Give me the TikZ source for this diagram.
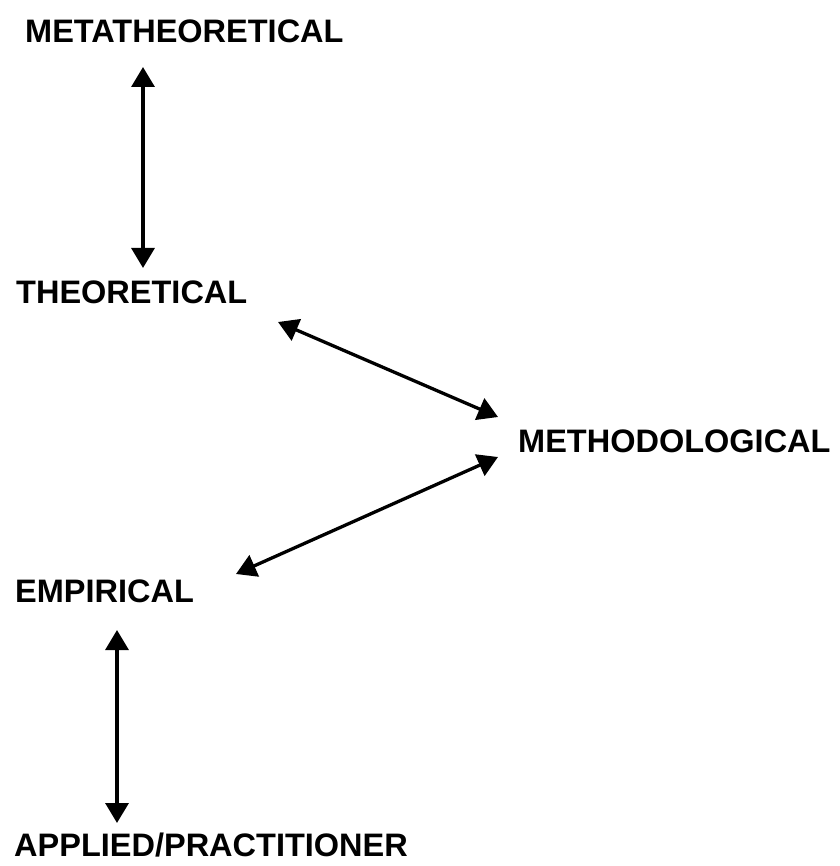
\documentclass[tikz,border=0pt]{standalone}
\usepackage{fontspec}
\setmainfont{Liberation Sans}
\usetikzlibrary{arrows.meta}
\begin{document}
\begin{tikzpicture}[x=1pt,y=-1pt,
  level/.style={anchor=base west,inner sep=0pt,font=\fontsize{32.5}{36}\selectfont\bfseries},
  link/.style={line width=3.3pt,{Triangle[width=23pt,length=20pt]}-{Triangle[width=23pt,length=20pt]}}]
\useasboundingbox (0,0) rectangle (839,866);
% levels of inquiry
\node[level] (meta) at (25,43) {METATHEORETICAL};
\node[level] (theo) at (16,303) {THEORETICAL};
\node[level] (meth) at (518,452) {METHODOLOGICAL};
\node[level] (emp) at (15,602) {EMPIRICAL};
\node[level] (app) at (14,856) {APPLIED/PRACTITIONER};
% arrow end points
\coordinate (m1) at (143,67);
\coordinate (t1) at (143,268);
\coordinate (t2) at (278,322);
\coordinate (h1) at (498,417);
\coordinate (h2) at (498,457);
\coordinate (e1) at (236,574);
\coordinate (e2) at (117,630);
\coordinate (a1) at (117,823);
% two-way links
\draw[link] (m1) -- (t1);
\draw[link] (t2) -- (h1);
\draw[link] (h2) -- (e1);
\draw[link] (e2) -- (a1);
\end{tikzpicture}
\end{document}
